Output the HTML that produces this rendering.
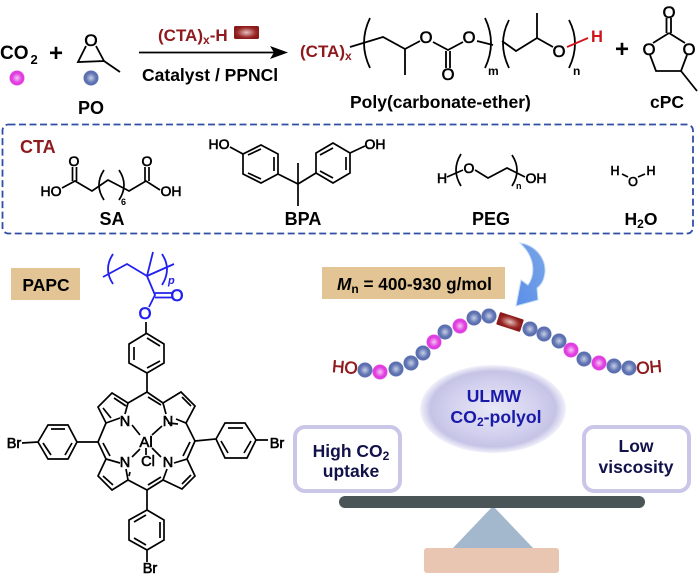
<!DOCTYPE html>
<html><head><meta charset="utf-8"><style>
html,body{margin:0;padding:0;background:#fff;width:700px;height:577px;overflow:hidden}
svg{display:block}
text{font-family:"Liberation Sans",sans-serif;font-weight:bold}
.a{font-weight:normal;stroke:#000;stroke-width:.6;text-anchor:middle}
.m{fill:#1a1aa8}
.n{fill:#12124a;text-anchor:middle;font-size:17.5px}
</style></head><body>
<svg width="700" height="577" viewBox="0 0 700 577" xmlns="http://www.w3.org/2000/svg">
<defs>
<radialGradient id="mg"><stop offset="0" stop-color="#f3c8f3"/><stop offset=".65" stop-color="#e23be2"/><stop offset=".92" stop-color="#e040e0"/><stop offset="1" stop-color="#eea0ee"/></radialGradient>
<radialGradient id="bl"><stop offset="0" stop-color="#c8cfe4"/><stop offset=".65" stop-color="#6074b4"/><stop offset=".92" stop-color="#5a6cac"/><stop offset="1" stop-color="#98a6d0"/></radialGradient>
<radialGradient id="br"><stop offset="0" stop-color="#e4c4bc"/><stop offset=".75" stop-color="#9c2a2a"/><stop offset="1" stop-color="#8a1a1a"/></radialGradient>
<radialGradient id="el"><stop offset="0" stop-color="#e8e8f6"/><stop offset=".6" stop-color="#d2d0ee"/><stop offset=".86" stop-color="#c6c4e6"/><stop offset="1" stop-color="#f2f2fb"/></radialGradient>
<linearGradient id="ar" x1="0" y1="1" x2="1" y2="0"><stop offset="0" stop-color="#5a8ee8"/><stop offset="1" stop-color="#7aa6e6"/></linearGradient>
<g id="M"><circle r="7.6" fill="url(#mg)"/></g>
<g id="B"><circle r="7.6" fill="url(#bl)"/></g>
</defs>

<!-- top reaction -->
<text x="0" y="59" font-size="19">CO</text><text x="30.500" y="64" font-size="13">2</text>
<text x="56" y="61" font-size="24" text-anchor="middle">+</text>
<text class="a" x="91" y="46" font-size="17">O</text>
<path d="M86,46L78,62L104,61L96,46M104,61L120,72" fill="none" stroke="#000" stroke-width="1.8"/>
<use href="#M" x="17" y="78"/><use href="#B" x="91" y="78"/>
<text x="91" y="114" font-size="18" text-anchor="middle">PO</text>
<path d="M139,52.5H275" stroke="#000" stroke-width="1.8"/>
<path d="M270,46L288,52.5L270,59L274,52.5Z" fill="#000"/>
<text x="158" y="41" font-size="17" fill="#8f1a1d">(CTA)<tspan font-size="12" dy="3">x</tspan><tspan dy="-3">-H</tspan></text>
<rect x="234" y="26" width="25" height="13" rx="1.5" fill="url(#br)"/>
<text x="142" y="81" font-size="17.5">Catalyst / PPNCl</text>

<text x="300" y="57" font-size="17" fill="#8f1a1d">(CTA)<tspan font-size="12" dy="3">x</tspan></text>
<g fill="none" stroke="#000" stroke-width="1.8">
<path d="M350,47L383,37L405,49L420,41M433,42L448,50L463,42M477,41L493,45M502,41L516,51L537,38L553,47"/>
<path d="M405,49V75M446,51V68M450,51V68M537,38V13"/>
<path d="M370,18Q358,43 370,68M485,18Q497,43 485,68M509,20Q497,43 509,68M569,20Q581,43 569,68"/>
<path d="M567,47L588,38" stroke="#d0141c"/>
<path d="M666.5,18V33M671,18V33M669,33L653,43M669,33L685,43M650,55L656,71H681L687,55M681,71L697,91"/>
</g>
<g font-size="16.5">
<text class="a" x="426" y="43">O</text><text class="a" x="469" y="43">O</text><text class="a" x="448" y="80">O</text><text class="a" x="559" y="57">O</text>
<text class="a" x="669" y="18">O</text><text class="a" x="649" y="55">O</text><text class="a" x="689" y="55">O</text>
</g>
<text x="488" y="75" font-size="12">m</text><text x="573" y="75" font-size="12">n</text>
<text x="597" y="42" font-size="16.5" fill="#d0141c" text-anchor="middle">H</text>
<text x="622" y="57" font-size="24" text-anchor="middle">+</text>
<text x="350" y="108" font-size="17.5">Poly(carbonate-ether)</text>
<text x="667" y="108" font-size="17.5" text-anchor="middle">cPC</text>

<!-- dashed box -->
<rect x="2.5" y="124.500" width="690.5" height="109" rx="6" fill="none" stroke="#2f4ea8" stroke-width="1.8" stroke-dasharray="7 3.5"/>
<text x="20" y="153" font-size="18" fill="#8f1a1d">CTA</text>

<g fill="none" stroke="#000" stroke-width="1.7">
<!-- SA -->
<path d="M62,188L75,181L92,191L108,180L129,191L146,181L160,190M72.5,167V181M76.5,167V181M145,167V181M149,167V181"/>
<path d="M104,170Q94,185 104,200M119,170Q129,185 119,200"/>
<!-- BPA -->
<path d="M230,147L243,154L261,145L278,154V174L261,183L243,174V154M278,174L298,184L316,173V153L333,143L350,153V173L333,183L316,173M298,163V206M350,153L365,146"/>
<path d="M248,155L261,149M274,157V171M248,173L261,179M320,155L333,148M346,157V170M320,171L333,178"/>
<!-- PEG -->
<path d="M447,177L463,170M475,170L488,178L507,168L525,177M461,154Q451,170 461,186M512,155Q522,170 512,186"/>
<!-- H2O -->
<path d="M622,174L628,177M638,177L645,174"/>
</g>
<g font-size="14">
<text class="a" x="51" y="196">HO</text><text class="a" x="74" y="166">O</text><text class="a" x="147" y="166">O</text><text class="a" x="171" y="196">OH</text>
<text class="a" x="219" y="149">HO</text><text class="a" x="375" y="149">OH</text>
<text class="a" x="442" y="183">H</text><text class="a" x="469" y="173">O</text><text class="a" x="536" y="183">OH</text>
</g>
<text x="121" y="205" font-size="9">6</text><text x="516" y="189" font-size="9">n</text>
<g font-size="12.5"><text class="a" x="615" y="175">H</text><text class="a" x="633" y="186">O</text><text class="a" x="651" y="175">H</text></g>
<g font-size="18" text-anchor="middle">
<text x="112" y="225">SA</text><text x="303" y="225">BPA</text><text x="491" y="225">PEG</text>
<text x="641" y="225" font-size="17.500">H<tspan font-size="12" dy="3">2</tspan><tspan dy="-3">O</tspan></text>
</g>

<!-- PAPC -->
<rect x="11" y="268" width="69" height="32" fill="#e3c595"/>
<text x="46" y="291" font-size="17.500" text-anchor="middle">PAPC</text>
<g fill="none" stroke="#2020f0" stroke-width="1.8">
<path d="M103,277L127,264L147,276L153,252M147,276L174,264M147,276L155,295L149,307M155,293H172M155,297.5H172"/>
<path d="M113,254Q103,269 113,284M162,254Q172,269 162,285"/>
</g>
<text x="168" y="284" font-size="11" font-style="italic" fill="#2020f0">p</text>
<text x="177" y="301" font-size="16.5" fill="#2020f0" text-anchor="middle" style="font-weight:normal;stroke:#2020f0;stroke-width:.7">O</text>
<text x="145" y="319" font-size="16.5" fill="#2020f0" text-anchor="middle" style="font-weight:normal;stroke:#2020f0;stroke-width:.7">O</text>

<!-- porphyrin -->
<g fill="none" stroke="#000" stroke-width="1.7">
<path d="M146,322V333L164,344V363L147,373L129,363V344L147,333M147,373V392"/>
<path d="M147,338L160,346M160,361L147,368M134,360V347"/>
<!-- macrocycle -->
<path d="M120,418L106,423L98,407L112,393L128,403L147,392L163,403L181,392L195,406L186,423L176,419"/>
<path d="M128,403L125,414M163,403L166,414"/>
<path d="M106,423L98,442L106,459L120,463M186,423L195,441L187,459L174,463"/>
<path d="M106,459L98,476L112,490L128,480L147,490L163,480L182,489L195,476L187,459"/>
<path d="M128,480L126,469M163,480L167,469"/>
<!-- inner double bonds -->
<path d="M103,408L111,418M114,398L126,406M148,397L161,405M182,397L191,406M178,424L168,423"/>
<path d="M103,443L110,456M190,442L183,456"/>
<path d="M103,476L113,485M130,472L129,476M148,485L161,477M182,484L191,475"/>
<!-- Al bonds -->
<path d="M132,425L140,435M162,426L152,435M132,457L140,449M161,457L152,448M146,448V455"/>
<!-- bottom phenyl -->
<path d="M147,490V510L164,520V540L147,550L129,540V520L147,510M147,550V562"/>
<path d="M134,522L146,515M160,522V538M134,538L146,545"/>
<!-- left phenyl -->
<path d="M98,442L77,442L68,425H48L38,442L48,459H68L77,442M38,442L22,443"/>
<path d="M51,429H65M72,443L65,455M43,443L51,455"/>
<!-- right phenyl -->
<path d="M195,441L216,439L225,423H245L256,440L247,458H225L216,439M256,440H268"/>
<path d="M228,428H243M251,441L244,453M221,441L228,453"/>
</g>
<g font-size="14.5">
<text class="a" x="125" y="426">N</text><text class="a" x="168" y="426">N</text>
<text class="a" x="125" y="467">N</text><text class="a" x="168" y="467">N</text>
<text class="a" x="146" y="447" font-size="15">Al</text><text class="a" x="148" y="466">Cl</text>
<text class="a" x="14" y="448">Br</text><text class="a" x="277" y="448">Br</text><text class="a" x="150" y="573">Br</text>
</g>

<!-- Mn label -->
<rect x="322" y="267" width="183" height="32" fill="#e3c595"/>
<text x="337" y="290" font-size="17.2"><tspan font-style="italic">M</tspan><tspan font-size="12" dy="3">n</tspan><tspan dy="-3"> = 400-930 g/mol</tspan></text>

<!-- curved arrow -->
<path d="M520,243C535,245 546,258 545,272C544,281 541,285 537,288L538,300L516,306L521,280L528,285C535,275 536,258 520,243Z" fill="url(#ar)" stroke="#c4daf6" stroke-width="1"/>

<!-- chain -->
<use href="#B" x="365" y="370"/><use href="#M" x="380" y="372"/><use href="#B" x="396" y="369"/>
<use href="#B" x="411" y="363"/><use href="#B" x="423" y="353"/><use href="#M" x="434" y="342"/>
<use href="#B" x="445" y="332"/><use href="#M" x="460" y="326"/><use href="#B" x="474" y="318"/>
<use href="#B" x="489" y="316"/>
<rect x="-12.5" y="-6.5" width="25" height="13" rx="1" transform="translate(510,322) rotate(18)" fill="url(#br)"/>
<use href="#B" x="530" y="329"/><use href="#B" x="544" y="334"/><use href="#B" x="559" y="341"/>
<use href="#M" x="571" y="350"/><use href="#B" x="584" y="359"/><use href="#M" x="599" y="363"/>
<use href="#B" x="614" y="366"/><use href="#B" x="629" y="368"/>
<text x="345" y="373" font-size="17" fill="#8f1a1d" text-anchor="middle" transform="rotate(5 345 367)" style="font-weight:normal;stroke:#8f1a1d;stroke-width:.6">HO</text>
<text x="649" y="373" font-size="17" fill="#8f1a1d" text-anchor="middle" transform="rotate(-5 649 367)" style="font-weight:normal;stroke:#8f1a1d;stroke-width:.6">OH</text>

<!-- ellipse -->
<ellipse cx="493" cy="409" rx="73" ry="44" fill="url(#el)"/>
<text class="m" x="494" y="402" font-size="17.5" text-anchor="middle">ULMW</text>
<text class="m" x="496" y="423" font-size="17.7" text-anchor="middle">CO<tspan font-size="12" dy="3">2</tspan><tspan dy="-3">-polyol</tspan></text>

<!-- boxes -->
<rect x="295" y="427" width="105" height="64" rx="10" fill="#fff" stroke="#c9c6e8" stroke-width="4"/>
<rect x="584" y="427" width="105" height="64" rx="10" fill="#fff" stroke="#c9c6e8" stroke-width="4"/>
<text class="n" x="351" y="457">High CO<tspan font-size="12" dy="3">2</tspan></text>
<text class="n" x="351" y="477">uptake</text>
<text class="n" x="636" y="452">Low</text>
<text class="n" x="636" y="473">viscosity</text>

<!-- balance -->
<path d="M493,506L453,548H533Z" fill="#a3b8cc"/>
<rect x="339" y="496" width="306" height="12" rx="6" fill="#4a5558"/>
<rect x="424" y="548" width="135" height="25" rx="3" fill="#e8c6b2"/>
</svg>
</body></html>
